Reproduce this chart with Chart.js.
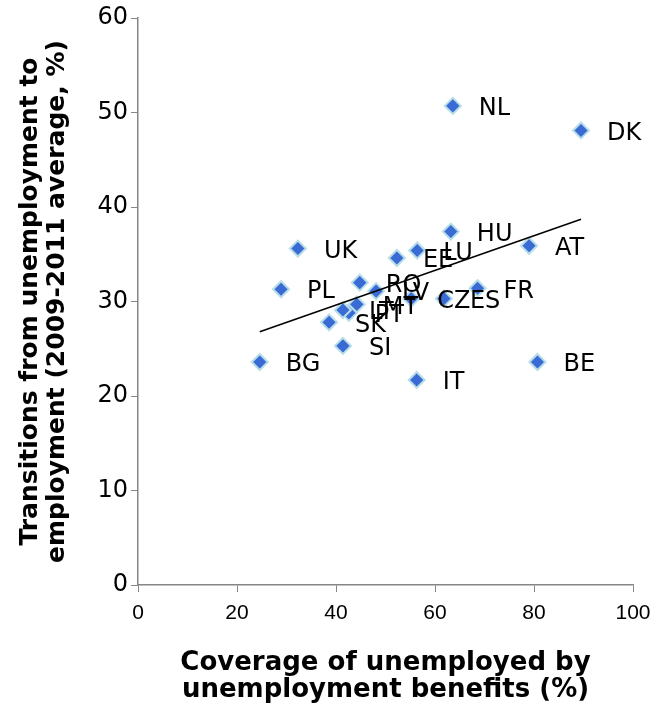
<!DOCTYPE html>
<html>
<head>
<meta charset="utf-8">
<script src="https://cdn.jsdelivr.net/npm/chart.js@4/dist/chart.umd.min.js"></script>
<style>
  html, body { margin: 0; padding: 0; background: #fff; }
  #wrap { width: 656px; height: 707px; }
</style>
</head>
<body>
<div id="wrap"><canvas id="scatter" width="656" height="707"></canvas></div>
<script>
// Country codes and values
const countries = ['NL', 'DK', 'HU', 'AT', 'UK', 'LU', 'EE', 'PL', 'RO', 'LV', 'MT', 'PT', 'LT', 'SK', 'SI', 'BG', 'IT', 'BE', 'CZ', 'ES', 'FR'];
const coverage = [63.6, 89.5, 63.2, 79.0, 32.3, 56.4, 52.3, 28.9, 44.8, 48.1, 44.2, 42.6, 41.4, 38.6, 41.4, 24.6, 56.3, 80.7, 55.2, 61.8, 68.6];
const transitions = [50.7, 48.1, 37.4, 35.9, 35.6, 35.4, 34.6, 31.3, 32.0, 31.1, 29.7, 28.8, 29.1, 27.8, 25.3, 23.6, 21.7, 23.6, 30.3, 30.3, 31.4];

// Linear trend line end points (as drawn)
const trendX = [24.6, 89.5];
const trendY = [26.8, 38.7];

const xTicks = [0, 20, 40, 60, 80, 100];
const yTicks = [0, 10, 20, 30, 40, 50, 60];

const axisGrey = '#868686';

// Draw the country code to the right of each marker
const pointLabels = {
    id: 'pointLabels',
    afterDatasetsDraw(chart) {
        const ctx = chart.ctx;
        const meta = chart.getDatasetMeta(0);
        ctx.save();
        ctx.font = '24px "DejaVu Sans"';
        ctx.fillStyle = '#000';
        ctx.textAlign = 'left';
        ctx.textBaseline = 'middle';
        meta.data.forEach((pt, i) => {
            ctx.fillText(countries[i], pt.x + 26, pt.y + 3);
        });
        ctx.restore();
    }
};

const ctx = document.getElementById('scatter').getContext('2d');
const chart = new Chart(ctx, {
    type: 'scatter',
    data: {
        datasets: [{
            label: 'Countries',
            data: coverage.map((v, i) => ({ x: v, y: transitions[i] })),
            pointStyle: 'rectRot',
            pointRadius: 8,
            pointHoverRadius: 8,
            backgroundColor: '#3a6bd4',
            borderColor: '#b6dde8',
            borderWidth: 2,
            order: 1
        }, {
            type: 'line',
            label: 'Trend',
            data: trendX.map((v, i) => ({ x: v, y: trendY[i] })),
            borderColor: '#000',
            borderWidth: 1.5,
            pointRadius: 0,
            fill: false,
            order: 0
        }]
    },
    options: {
        responsive: false,
        animation: false,
        events: [],
        layout: { padding: { top: 18, right: 23, left: 0, bottom: 0 } },
        plugins: {
            legend: { display: false },
            tooltip: { enabled: false }
        },
        scales: {
            x: {
                type: 'linear',
                min: 0,
                max: 100,
                afterBuildTicks: (scale) => { scale.ticks = xTicks.map(v => ({ value: v })); },
                afterFit: (scale) => {
                    scale.height = 122;
                    scale.paddingLeft = 0;
                    scale.paddingRight = 0;
                },
                grid: { drawOnChartArea: false, drawTicks: true, tickLength: 7, color: axisGrey },
                border: { display: true, color: axisGrey, width: 1.5 },
                ticks: {
                    color: '#000',
                    padding: 9,
                    maxRotation: 0,
                    font: { family: '"Liberation Sans"', size: 21 }
                },
                title: {
                    display: true,
                    text: ['Coverage of unemployed by', 'unemployment benefits (%)'],
                    color: '#000',
                    padding: { top: 0, bottom: 3 },
                    font: { family: '"DejaVu Sans"', size: 26, weight: 'bold', lineHeight: 1.05 }
                }
            },
            y: {
                type: 'linear',
                min: 0,
                max: 60,
                afterBuildTicks: (scale) => { scale.ticks = yTicks.map(v => ({ value: v })); },
                afterFit: (scale) => { scale.width = 138; },
                grid: { drawOnChartArea: false, drawTicks: true, tickLength: 7, color: axisGrey },
                border: { display: true, color: axisGrey, width: 1.5 },
                ticks: {
                    color: '#000',
                    padding: 3,
                    font: { family: '"DejaVu Sans"', size: 24 }
                },
                title: {
                    display: true,
                    text: ['Transitions from unemployment to', 'employment (2009-2011 average, %)'],
                    color: '#000',
                    padding: { top: 17, bottom: 0 },
                    font: { family: '"DejaVu Sans"', size: 25, weight: 'bold', lineHeight: 1.08 }
                }
            }
        }
    },
    plugins: [pointLabels]
});
</script>
</body>
</html>
